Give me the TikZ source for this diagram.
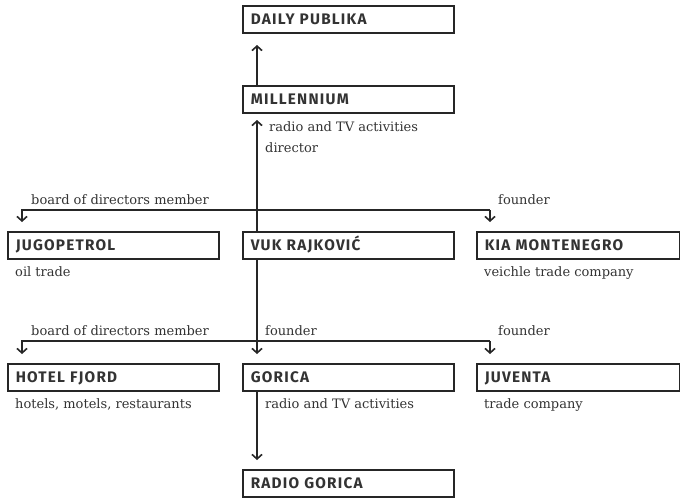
\documentclass[tikz,border=0pt]{standalone}
\usepackage{fontspec}
\setmainfont{DejaVu Serif}
\newfontfamily\boxfont[LetterSpace=8]{Fira Sans}
\usetikzlibrary{arrows.meta}
\begin{document}
\begin{tikzpicture}[x=1pt,y=-1pt,
  box/.style={draw=black!85, line width=1.6pt, anchor=north west, fill=white,
    text width=195pt, inner xsep=8pt, inner ysep=0pt, minimum height=27pt, align=left,
    text height=11pt, text depth=0pt,
    font=\boxfont\bfseries\fontsize{15.3}{15.3}\selectfont, text=black!80},
  wbox/.style={box, text width=187pt},
  lbl/.style={anchor=base west, inner sep=0pt, font=\fontsize{13}{15}\selectfont, text=black!80},
  conn/.style={line width=1.5pt, draw=black!85},
  arr/.style={conn, -{Straight Barb[length=4.5pt,width=10pt,line width=1.6pt]}}]
\useasboundingbox (0,0) rectangle (680,498);
% boxes
\node[box] (daily) at (242,5) {DAILY PUBLIKA};
\node[box] (mill) at (242,85) {MILLENNIUM};
\node[box] (jugo) at (7,231) {JUGOPETROL};
\node[box] (hotel) at (7,363) {HOTEL FJORD};
\node[box] (gorica) at (242,363) {GORICA};
\node[wbox] (kia) at (476,231) {KIA MONTENEGRO};
\node[wbox] (juv) at (476,363) {JUVENTA};
\node[box] (radio) at (242,469) {RADIO GORICA};
% coordinates
\coordinate (m0) at (257,85);
\coordinate (m1) at (257,45);
\coordinate (v0) at (257,231);
\coordinate (v1) at (257,120);
\coordinate (v2) at (257,258);
\coordinate (b1) at (257,341);
\coordinate (uL) at (22,210);
\coordinate (uR) at (490,210);
\coordinate (uLt) at (22,222);
\coordinate (uRt) at (490,222);
\coordinate (lL) at (22,341);
\coordinate (lR) at (490,341);
\coordinate (lLt) at (22,354);
\coordinate (lMt) at (257,354);
\coordinate (lRt) at (490,354);
\coordinate (g0) at (257,390);
\coordinate (g1) at (257,460);
% connectors
\draw[arr] (m0) -- (m1);
\draw[arr] (v0) -- (v1);
\draw[conn] (v2) -- (b1);
\draw[arr] (uR) -- (uL) -- (uLt);
\draw[arr] (uR) -- (uRt);
\draw[arr] (lR) -- (lL) -- (lLt);
\draw[arr] (b1) -- (lMt);
\draw[arr] (lR) -- (lRt);
\draw[arr] (g0) -- (g1);
% VUK box drawn over the vertical line
\node[box] (vuk) at (242,231) {VUK RAJKOVIĆ};
% labels
\node[lbl] (l1) at (269,131) {radio and TV activities};
\node[lbl] (l2) at (265,152) {director};
\node[lbl] (l3) at (31,204) {board of directors member};
\node[lbl] (l4) at (498,204) {founder};
\node[lbl] (l5) at (15,276) {oil trade};
\node[lbl] (l6) at (484,276) {veichle trade company};
\node[lbl] (l7) at (31,335) {board of directors member};
\node[lbl] (l8) at (265,335) {founder};
\node[lbl] (l9) at (498,335) {founder};
\node[lbl] (l10) at (15,408) {hotels, motels, restaurants};
\node[lbl] (l11) at (265,408) {radio and TV activities};
\node[lbl] (l12) at (484,408) {trade company};
\end{tikzpicture}
\end{document}
